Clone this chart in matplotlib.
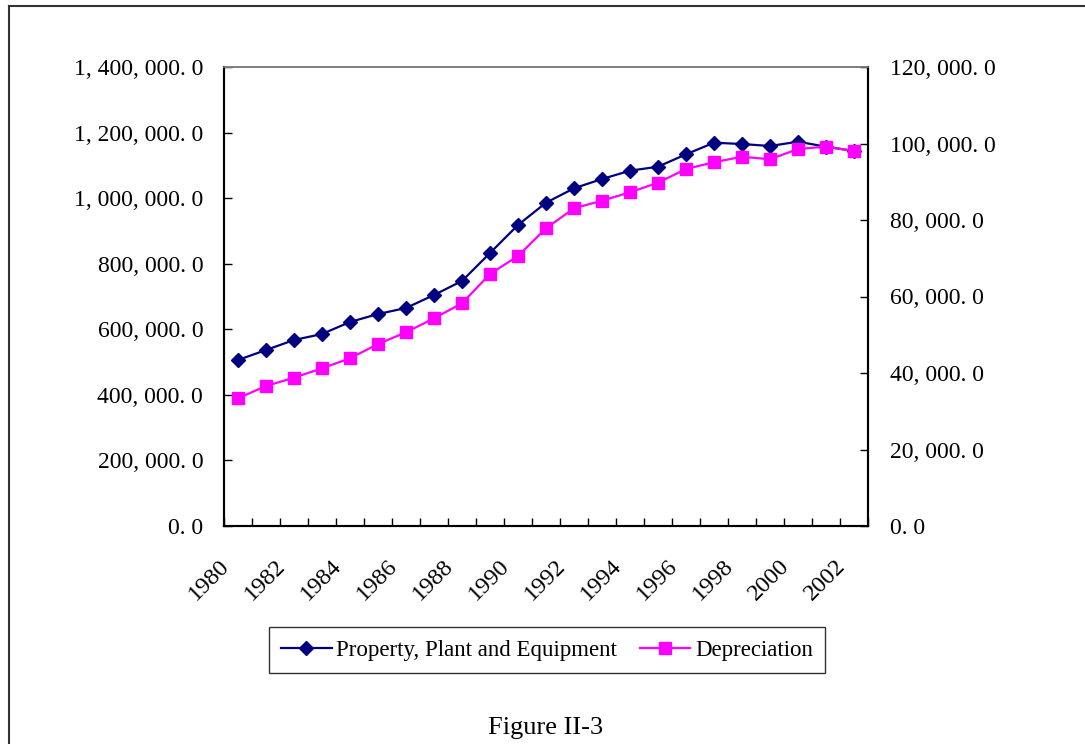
import numpy as np
import matplotlib.pyplot as plt
from matplotlib.lines import Line2D
from matplotlib.ticker import FixedLocator, FuncFormatter, NullFormatter
import matplotlib.transforms as mtransforms

plt.rcParams['font.family'] = ['Liberation Serif', 'DejaVu Serif']

years = list(range(1980, 2003))
ppe = [506300, 536800, 567300, 585600, 622200, 646600, 664900, 704600,
       747300, 832700, 918100, 986100, 1030000, 1058400, 1083700, 1095900,
       1133700, 1169100, 1165100, 1159000, 1172200, 1156900, 1143800]
depreciation = [33390, 36600, 38770, 41230, 43840, 47580, 50640, 54300,
                58220, 65880, 70590, 77830, 83060, 85050, 87240, 89750,
                93330, 95090, 96550, 95870, 98560, 99170, 98040]
year_labels = [str(y) if y % 2 == 0 else '' for y in years]


def fmt_num(v, pos=None):
    # "1, 400, 000. 0" style with spaced separators
    return f"{v:,.1f}".replace(',', ', ').replace('.', '. ')


fig = plt.figure(figsize=(10.85, 7.44), dpi=100)
ax = fig.add_axes([224 / 1085, 1 - 526 / 744, 644 / 1085, 459 / 744])
ax2 = ax.twinx()

x = np.arange(len(years))
ax.plot(x, ppe, color='#000080', lw=1.6, marker='D', ms=6.8,
        label='Property, Plant and Equipment')
ax2.plot(x, depreciation, color='#ff00ff', lw=1.6, marker='s', ms=9,
         label='Depreciation')

ax.set_xlim(-0.5, len(years) - 0.5)
ax.set_ylim(0, 1400000)
ax2.set_ylim(0, 120000)

# category boundary ticks, labels sit at the centres
ax.xaxis.set_major_locator(FixedLocator(np.arange(-0.5, len(years), 1.0)))
ax.xaxis.set_major_formatter(NullFormatter())
ax.xaxis.set_minor_locator(FixedLocator(x))
ax.set_xticklabels(year_labels, minor=True)
ax.tick_params(axis='x', which='major', direction='in', length=5.5, width=1, color='black')
ax.tick_params(axis='x', which='minor', length=0, pad=21, labelsize=17.5)
offset = mtransforms.ScaledTranslation(-0.19, 0, fig.dpi_scale_trans)
for lab in ax.get_xticklabels(minor=True):
    lab.set_rotation(45)
    lab.set_ha('right')
    lab.set_va('top')
    lab.set_rotation_mode('anchor')
    lab.set_transform(lab.get_transform() + offset)

ax.set_yticks(np.arange(0, 1400001, 200000))
ax.yaxis.set_major_formatter(FuncFormatter(fmt_num))
ax.tick_params(axis='y', direction='in', length=6, width=1, pad=15, labelsize=17)
ax2.set_yticks(np.arange(0, 120001, 20000))
ax2.yaxis.set_major_formatter(FuncFormatter(fmt_num))
ax2.tick_params(axis='y', direction='in', length=6, width=1, pad=16, labelsize=17)

for a in (ax, ax2):
    for side in ('left', 'bottom', 'right'):
        a.spines[side].set_color('black')
        a.spines[side].set_linewidth(1.5)
    a.spines['top'].set_color('#808080')
    a.spines['top'].set_linewidth(1.2)

h1, l1 = ax.get_legend_handles_labels()
h2, l2 = ax2.get_legend_handles_labels()
leg = fig.legend(h1 + h2, l1 + l2, loc='center', ncol=2,
                 bbox_to_anchor=(547 / 1085, 1 - 650 / 744),
                 fontsize=16.5, frameon=True, fancybox=False, shadow=False,
                 handlelength=2.2, handletextpad=0.2, columnspacing=1.0,
                 borderpad=0.55, borderaxespad=0)
leg.get_frame().set_edgecolor('black')
leg.get_frame().set_linewidth(1.0)

fig.text(546 / 1085, 1 - 728 / 744, 'Figure II-3', ha='center', va='center',
         fontsize=19)

# outer frame: left and top edges
fig.add_artist(Line2D([9 / 1085, 9 / 1085], [0, 1 - 6 / 744], transform=fig.transFigure,
                      color='#333333', lw=1.5))
fig.add_artist(Line2D([9 / 1085, 1], [1 - 6 / 744, 1 - 6 / 744], transform=fig.transFigure,
                      color='#333333', lw=1.5))

fig.savefig('out.png', dpi=100)
